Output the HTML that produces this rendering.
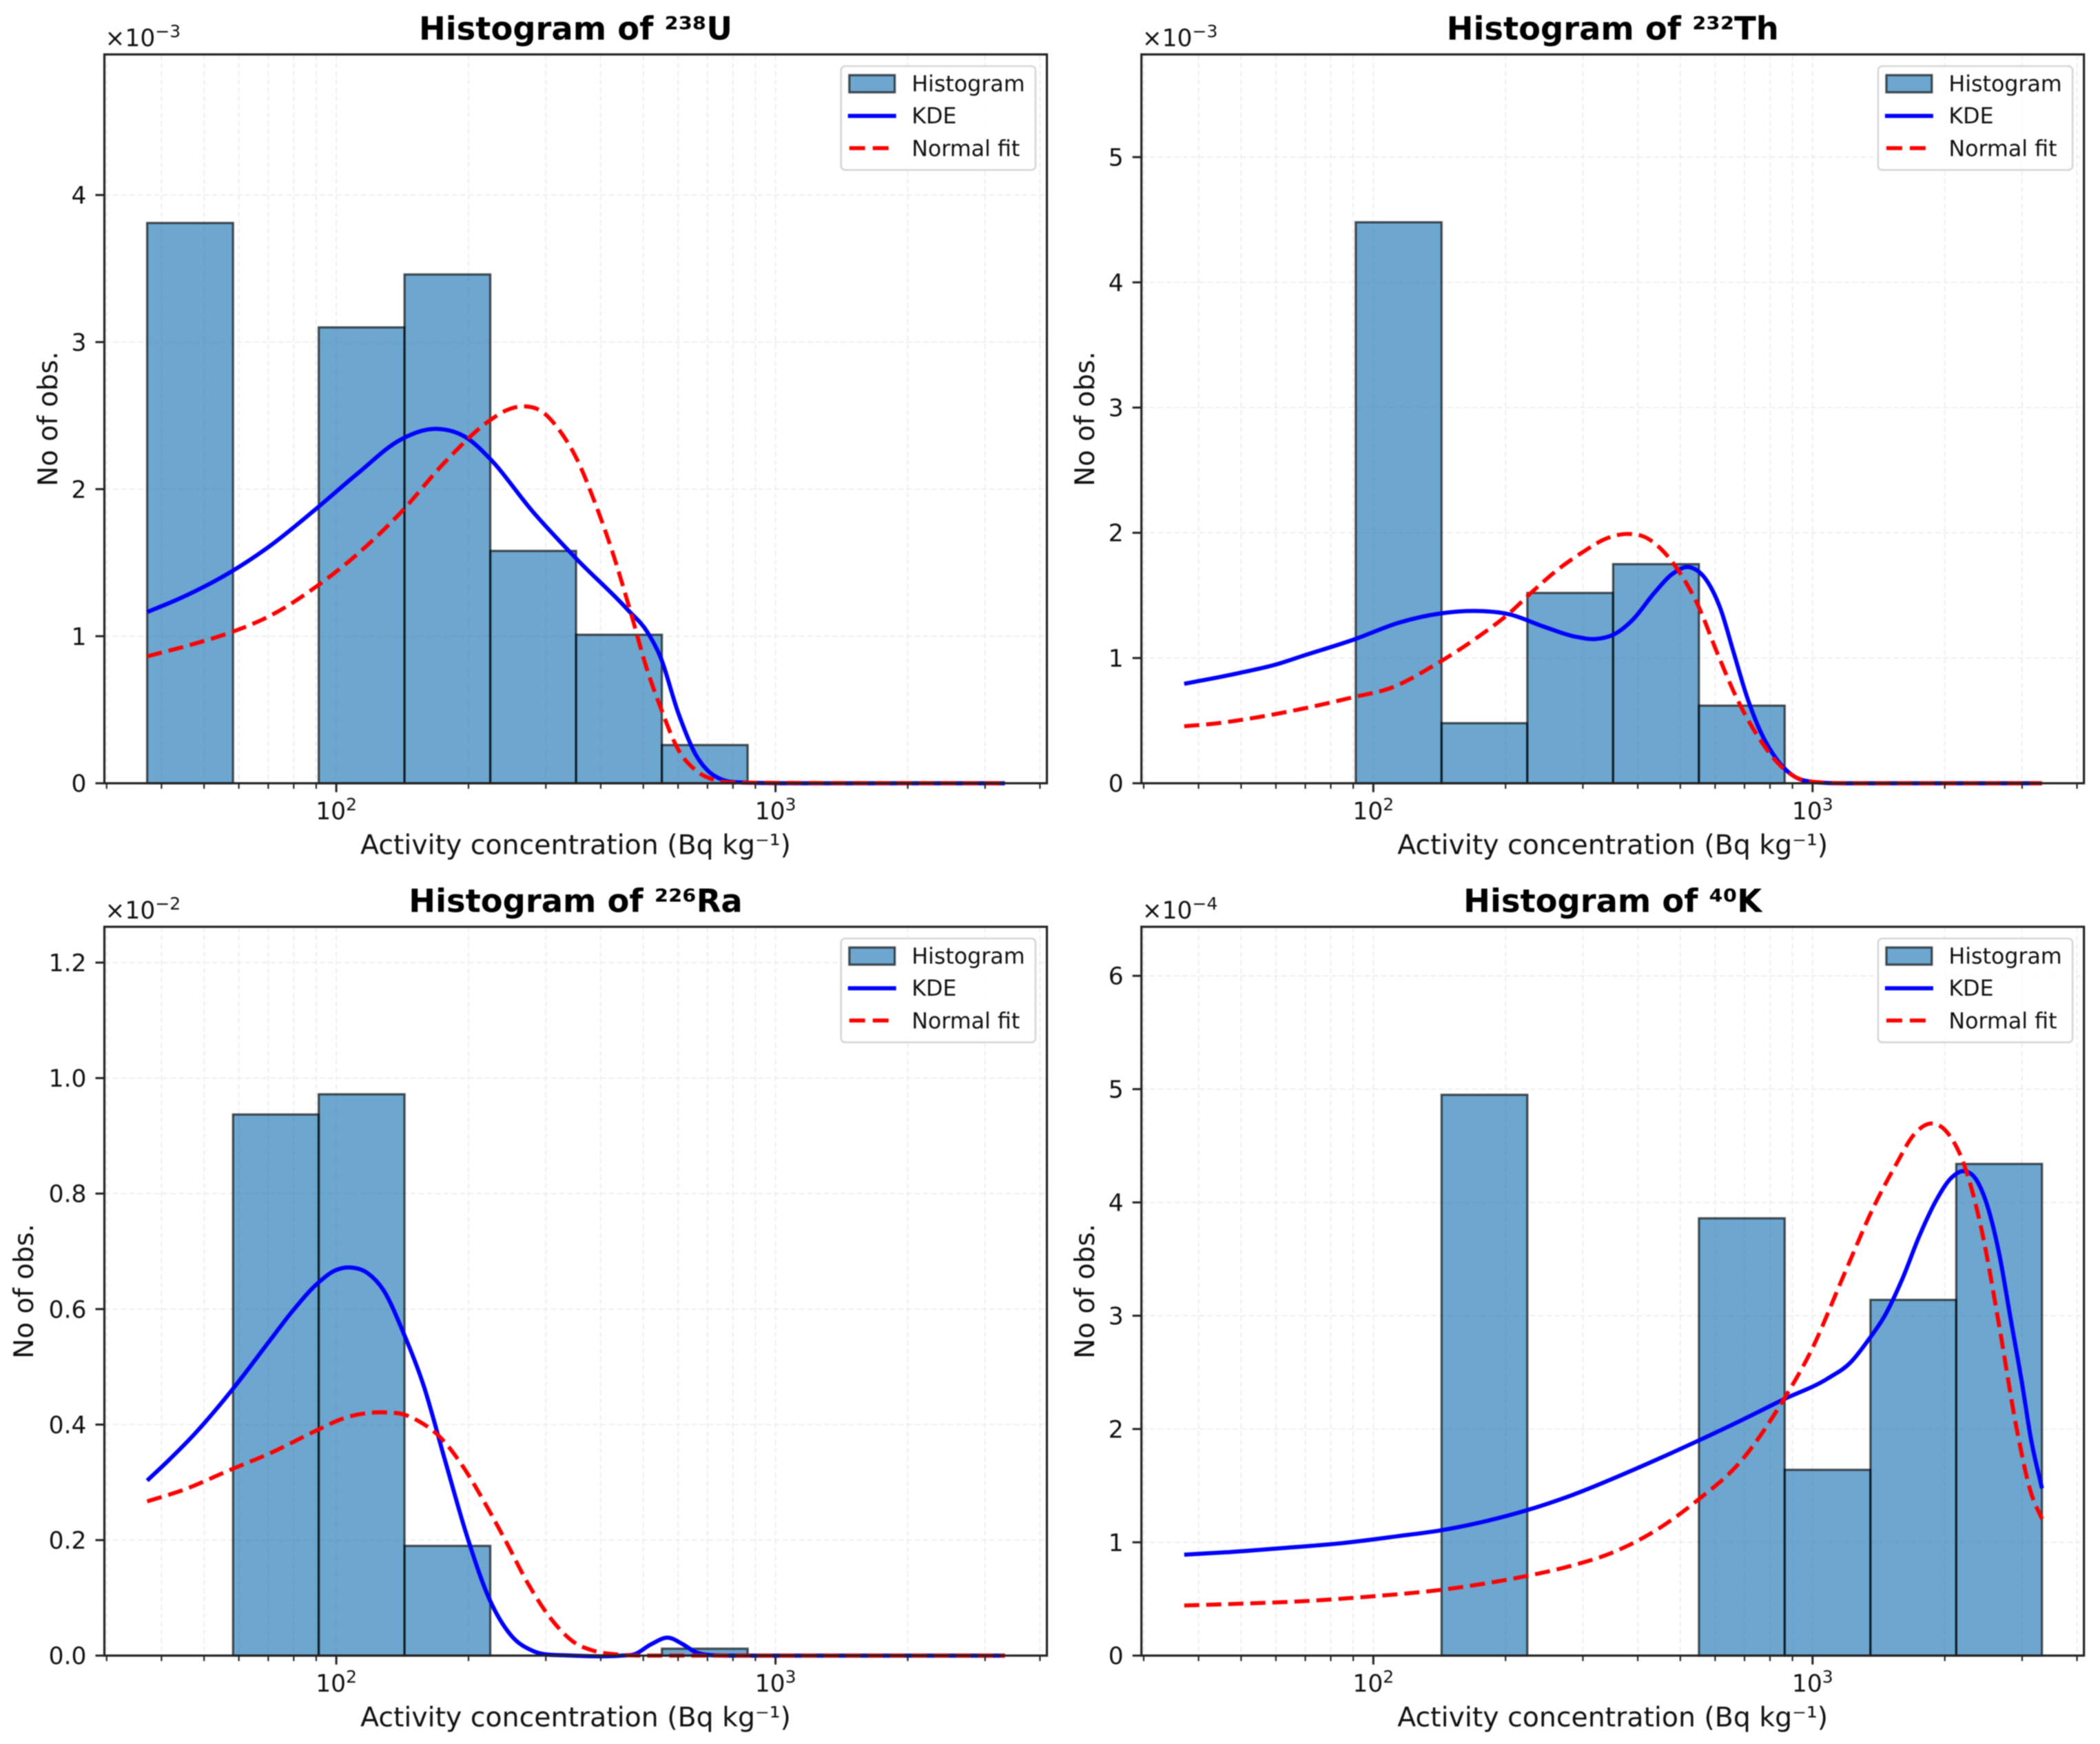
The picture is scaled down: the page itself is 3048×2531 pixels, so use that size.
<!DOCTYPE html>
<html lang="en">
<head>
<meta charset="utf-8">
<title>Histograms of activity concentration</title>
<style>
html,body{margin:0;padding:0;background:#fff;}
#figure{display:block;width:3048px;height:2531px;filter:blur(0.8px);font-family:"DejaVu Sans","Liberation Sans",sans-serif;}
</style>
</head>
<body>
<svg id="figure" xmlns="http://www.w3.org/2000/svg" width="3048" height="2531" viewBox="0 0 3048 2531">
<rect x="0" y="0" width="3048" height="2531" fill="#ffffff"/>
</svg>
<script>
// ---------- shared data ----------
const binEdges = [37.1, 58.2, 91.2, 143.0, 224.2, 351.5, 551.2, 864.1, 1354.6, 2124, 3329];
const xMajorTicks = [100, 1000];
const xMajorExponents = ['2', '3'];
const xMinorTicks = [30, 40, 50, 60, 70, 80, 90, 200, 300, 400, 500, 600, 700, 800, 900, 2000, 3000, 4000];
const legendLabels = ['Histogram', 'KDE', 'Normal fit'];
const xAxisTitle = 'Activity concentration (Bq kg⁻¹)';
const yAxisTitle = 'No of obs.';

// ---------- 238U (values x 10^-3) ----------
const u238Title = 'Histogram of ²³⁸U';
const u238Exponent = '−3';
const u238YMax = 4.956;
const u238YTicks = [0, 1, 2, 3, 4];
const u238YLabels = ['0', '1', '2', '3', '4'];
const u238Bins = [3.81, 0, 3.10, 3.46, 1.58, 1.01, 0.26, 0, 0, 0];
const u238KdeX = [37.1, 44.5, 57.9, 70.5, 89.7, 111.7, 140.6, 169, 198.6, 222.8, 280.5, 353, 460, 510.5, 547, 600, 658, 705, 755, 847, 1117, 3329];
const u238KdeY = [1.164, 1.263, 1.442, 1.612, 1.863, 2.105, 2.339, 2.410, 2.347, 2.213, 1.845, 1.523, 1.182, 1.029, 0.859, 0.482, 0.195, 0.079, 0.025, 0.005, 0, 0];
const u238NormX = [37.1, 47.6, 57.9, 70.5, 89.7, 111.7, 140.6, 177, 222.8, 244, 268, 294, 322, 353, 387, 425, 466, 510.5, 547, 600, 658, 721, 828, 3329];
const u238NormY = [0.863, 0.949, 1.029, 1.137, 1.334, 1.558, 1.845, 2.186, 2.464, 2.536, 2.563, 2.527, 2.401, 2.204, 1.917, 1.576, 1.182, 0.769, 0.518, 0.231, 0.088, 0.025, 0.004, 0];

// ---------- 232Th (values x 10^-3) ----------
const th232Title = 'Histogram of ²³²Th';
const th232Exponent = '−3';
const th232YMax = 5.82;
const th232YTicks = [0, 1, 2, 3, 4, 5];
const th232YLabels = ['0', '1', '2', '3', '4', '5'];
const th232Bins = [0, 0, 4.48, 0.48, 1.52, 1.75, 0.62, 0, 0, 0];
const th232KdeX = [37.1, 49, 60.3, 69.2, 90.2, 114.8, 141, 170, 204, 245.5, 288, 320, 355, 389, 437, 479, 525, 575, 617, 661, 708, 759, 832, 912, 1000, 1175, 3329];
const th232KdeY = [0.794, 0.877, 0.950, 1.018, 1.147, 1.284, 1.354, 1.376, 1.349, 1.248, 1.171, 1.152, 1.193, 1.303, 1.523, 1.670, 1.725, 1.615, 1.394, 1.046, 0.697, 0.422, 0.183, 0.051, 0.011, 0, 0];
const th232NormX = [37.1, 43.7, 53.7, 69.2, 90.2, 109.6, 138, 174, 204, 229, 263, 302, 339, 380, 417, 457, 501, 550, 603, 676, 759, 832, 912, 1023, 1300, 3329];
const th232NormY = [0.455, 0.477, 0.523, 0.596, 0.688, 0.761, 0.945, 1.174, 1.358, 1.523, 1.706, 1.853, 1.954, 1.991, 1.963, 1.853, 1.670, 1.413, 1.064, 0.661, 0.349, 0.165, 0.051, 0.009, 0, 0];

// ---------- 226Ra (values x 10^-2) ----------
const ra226Title = 'Histogram of ²²⁶Ra';
const ra226Exponent = '−2';
const ra226YMax = 1.262;
const ra226YTicks = [0, 0.2, 0.4, 0.6, 0.8, 1.0, 1.2];
const ra226YLabels = ['0.0', '0.2', '0.4', '0.6', '0.8', '1.0', '1.2'];
const ra226Bins = [0, 0.937, 0.972, 0.19, 0, 0, 0.012, 0, 0, 0];
const ra226KdeX = [37.1, 41.5, 47.6, 57.9, 70.5, 79, 90.8, 99.5, 108, 118, 128, 142, 158, 177, 198.6, 222.8, 250, 280.5, 315, 445, 476, 522, 570, 614, 658, 705, 791, 3329];
const ra226KdeY = [0.303, 0.338, 0.384, 0.460, 0.545, 0.594, 0.645, 0.667, 0.672, 0.662, 0.633, 0.560, 0.468, 0.337, 0.206, 0.099, 0.035, 0.008, 0.001, 0, 0.002, 0.020, 0.031, 0.020, 0.006, 0.001, 0, 0];
const ra226NormX = [37.1, 44.5, 57.9, 70.5, 90.8, 104, 122, 137, 154, 173, 194, 218, 244, 274, 308, 345, 387, 435, 499, 3329];
const ra226NormY = [0.267, 0.286, 0.323, 0.350, 0.391, 0.411, 0.421, 0.420, 0.406, 0.377, 0.328, 0.264, 0.196, 0.123, 0.064, 0.025, 0.008, 0.002, 0, 0];

// ---------- 40K (values x 10^-4) ----------
const k40Title = 'Histogram of ⁴⁰K';
const k40Exponent = '−4';
const k40YMax = 6.433;
const k40YTicks = [0, 1, 2, 3, 4, 5, 6];
const k40YLabels = ['0', '1', '2', '3', '4', '5', '6'];
const k40Bins = [0, 0, 0, 4.95, 0, 0, 3.86, 1.64, 3.14, 4.34];
const k40KdeX = [37.1, 46.8, 63.1, 85.1, 114.8, 141.6, 174.6, 221.8, 281.8, 380, 544.5, 692, 853, 1084, 1222, 1337, 1462, 1600, 1750, 1914, 2065, 2212, 2362, 2506, 2661, 2825, 3000, 3139, 3329];
const k40KdeY = [0.891, 0.913, 0.951, 0.993, 1.056, 1.104, 1.174, 1.279, 1.413, 1.619, 1.890, 2.081, 2.256, 2.447, 2.590, 2.781, 3.004, 3.322, 3.703, 4.022, 4.213, 4.276, 4.197, 3.958, 3.544, 2.972, 2.399, 1.922, 1.476];
const k40NormX = [37.1, 49.6, 69, 98.8, 141.6, 208.9, 281.8, 347.5, 441.6, 544.5, 692, 853, 991, 1186, 1377, 1552, 1698, 1888, 2033, 2225, 2433, 2661, 2911, 3139, 3329];
const k40NormY = [0.442, 0.458, 0.480, 0.522, 0.579, 0.681, 0.792, 0.904, 1.110, 1.365, 1.731, 2.240, 2.685, 3.385, 3.958, 4.340, 4.594, 4.696, 4.610, 4.308, 3.735, 2.908, 2.017, 1.444, 1.206];

// ---------- drawing ----------
const SVGNS = 'http://www.w3.org/2000/svg';
const figure = document.getElementById('figure');
const AXES_W = 1368, AXES_H = 1057.7;
const PX_PER_DECADE = 637.5, X_100_OFFSET = 336.6;

function make(parent, tag, attrs, text) {
  const node = document.createElementNS(SVGNS, tag);
  for (const k in attrs) node.setAttribute(k, attrs[k]);
  if (text !== undefined) node.textContent = text;
  parent.appendChild(node);
  return node;
}

function smoothPath(pts) {
  const n = pts.length, dx = [], m = [], t = [];
  for (let i = 0; i < n - 1; i++) {
    dx[i] = pts[i + 1][0] - pts[i][0];
    m[i] = (pts[i + 1][1] - pts[i][1]) / dx[i];
  }
  t[0] = m[0];
  t[n - 1] = m[n - 2];
  for (let i = 1; i < n - 1; i++) {
    let s = (m[i - 1] * dx[i] + m[i] * dx[i - 1]) / (dx[i - 1] + dx[i]);
    if (m[i - 1] * m[i] > 0) {
      const lim = 3 * Math.min(Math.abs(m[i - 1]), Math.abs(m[i]));
      if (Math.abs(s) > lim) s = Math.sign(s) * lim;
    } else if (m[i - 1] === 0 || m[i] === 0) {
      s = 0;
    }
    t[i] = s;
  }
  let d = 'M' + pts[0][0].toFixed(2) + ' ' + pts[0][1].toFixed(2);
  for (let i = 0; i < n - 1; i++) {
    const h = dx[i] / 3;
    d += 'C' + (pts[i][0] + h).toFixed(2) + ' ' + (pts[i][1] + t[i] * h).toFixed(2) + ' ' +
      (pts[i + 1][0] - h).toFixed(2) + ' ' + (pts[i + 1][1] - t[i + 1] * h).toFixed(2) + ' ' +
      pts[i + 1][0].toFixed(2) + ' ' + pts[i + 1][1].toFixed(2);
  }
  return d;
}

function drawPanel(p) {
  const L = p.left, T = p.top, R = L + AXES_W, B = T + AXES_H;
  const xScale = v => L + X_100_OFFSET + PX_PER_DECADE * (Math.log10(v) - 2);
  const yScale = v => B - v / p.yMax * AXES_H;

  const g = make(figure, 'g', {});
  
  

  // grid
  const grid = make(g, 'g', {stroke: '#ebebeb', 'stroke-width': 1.6, 'stroke-dasharray': '8 4', fill: 'none'});
  
  
  xMajorTicks.concat(xMinorTicks).forEach(v => {
    make(grid, 'line', {x1: xScale(v), x2: xScale(v), y1: T, y2: B});
  });
  p.yTicks.forEach(v => {
    make(grid, 'line', {x1: L, x2: R, y1: yScale(v), y2: yScale(v)});
  });

  // histogram bars
  const bars = make(g, 'g', {});
  
  
  p.bins.forEach((v, i) => {
    const x0 = xScale(binEdges[i]), x1 = xScale(binEdges[i + 1]), y = yScale(v);
    const bar = make(bars, 'rect', {x: x0, y: y, width: x1 - x0, height: B - y, fill: '#1f77b4', 'fill-opacity': 0.65, stroke: '#000', 'stroke-opacity': 0.65, 'stroke-width': 3.2});
    
    
  });

  // curves
  const kde = make(g, 'path', {d: smoothPath(p.kdeX.map((x, i) => [xScale(x), yScale(p.kdeY[i])])), fill: 'none', stroke: '#0000ff', 'stroke-width': 6});
  
  
  const norm = make(g, 'path', {d: smoothPath(p.normX.map((x, i) => [xScale(x), yScale(p.normY[i])])), fill: 'none', stroke: '#ff0000', 'stroke-width': 5.8, 'stroke-dasharray': '22 10'});
  
  

  // spines
  const spines = make(g, 'rect', {x: L, y: T, width: AXES_W, height: AXES_H, fill: 'none', stroke: '#222', 'stroke-width': 3.2});
  
  

  // x ticks
  const xAxis = make(g, 'g', {stroke: '#222', fill: '#111'});
  
  
  xMinorTicks.forEach(v => {
    make(xAxis, 'line', {x1: xScale(v), x2: xScale(v), y1: B, y2: B + 8, 'stroke-width': 2.2});
  });
  xMajorTicks.forEach((v, i) => {
    make(xAxis, 'line', {x1: xScale(v), x2: xScale(v), y1: B, y2: B + 13, 'stroke-width': 3});
    const lab = make(xAxis, 'text', {x: xScale(v), y: B + 52.5, 'text-anchor': 'middle', 'font-size': 34.5, stroke: 'none'}, '10');
    
    
    make(lab, 'tspan', {dy: -13, 'font-size': 25}, xMajorExponents[i]);
  });

  // y ticks
  const yAxis = make(g, 'g', {stroke: '#222', fill: '#111'});
  
  
  p.yTicks.forEach((v, i) => {
    make(yAxis, 'line', {x1: L - 13, x2: L, y1: yScale(v), y2: yScale(v), 'stroke-width': 3});
    const lab = make(yAxis, 'text', {x: L - 26, y: yScale(v) + 12.5, 'text-anchor': 'end', 'font-size': 34.5, stroke: 'none'}, p.yLabels[i]);
    
    
  });

  // offset text
  const off = make(g, 'text', {x: L + 1, y: T - 12, 'font-size': 34.5, fill: '#111'}, '×10');
  
  
  make(off, 'tspan', {dy: -13, 'font-size': 25}, p.exponent);

  // titles
  const title = make(g, 'text', {x: L + AXES_W / 2, y: T - 21.5, 'text-anchor': 'middle', 'font-size': 46.4, 'font-weight': 'bold', fill: '#000'}, p.title);
  
  
  const xTitle = make(g, 'text', {x: L + AXES_W / 2, y: B + 103, 'text-anchor': 'middle', 'font-size': 39.4, fill: '#111'}, xAxisTitle);
  
  
  const yMid = T + AXES_H / 2, yX = p.yTitleX;
  const yTitle = make(g, 'text', {x: yX, y: yMid, 'text-anchor': 'middle', 'font-size': 38.8, fill: '#111', transform: 'rotate(-90 ' + yX + ' ' + yMid + ')'}, yAxisTitle);
  
  

  // legend
  const lx = L + 1069.2, ly = T + 17;
  const legend = make(g, 'g', {});
  
  
  make(legend, 'rect', {x: lx, y: ly, width: 282.3, height: 150.7, rx: 6, ry: 6, fill: '#fff', 'fill-opacity': 0.8, stroke: '#d6d6d6', 'stroke-width': 2.6});
  const swatch = make(legend, 'rect', {x: lx + 12, y: ly + 13, width: 66, height: 25, fill: '#1f77b4', 'fill-opacity': 0.65, stroke: '#000', 'stroke-opacity': 0.65, 'stroke-width': 3.2});
  
  
  const kdeKey = make(legend, 'line', {x1: lx + 10, x2: lx + 80, y1: ly + 72.3, y2: ly + 72.3, stroke: '#0000ff', 'stroke-width': 6});
  
  
  const normKey = make(legend, 'line', {x1: lx + 12, x2: lx + 80, y1: ly + 119, y2: ly + 119, stroke: '#ff0000', 'stroke-width': 5.8, 'stroke-dasharray': '23 11'});
  
  
  const legendBaselines = [36.7, 83, 130.7];
  legendLabels.forEach((label, i) => {
    const t = make(legend, 'text', {x: lx + 102.5, y: ly + legendBaselines[i], 'font-size': 31.7, fill: '#111'}, label);
    
    
  });
}

drawPanel({key: 'u238', left: 151.5, top: 79, yTitleX: 83, title: u238Title, exponent: u238Exponent, yMax: u238YMax, yTicks: u238YTicks, yLabels: u238YLabels, bins: u238Bins, kdeX: u238KdeX, kdeY: u238KdeY, normX: u238NormX, normY: u238NormY});
drawPanel({key: 'th232', left: 1656.7, top: 79, yTitleX: 1588, title: th232Title, exponent: th232Exponent, yMax: th232YMax, yTicks: th232YTicks, yLabels: th232YLabels, bins: th232Bins, kdeX: th232KdeX, kdeY: th232KdeY, normX: th232NormX, normY: th232NormY});
drawPanel({key: 'ra226', left: 151.5, top: 1345, yTitleX: 48, title: ra226Title, exponent: ra226Exponent, yMax: ra226YMax, yTicks: ra226YTicks, yLabels: ra226YLabels, bins: ra226Bins, kdeX: ra226KdeX, kdeY: ra226KdeY, normX: ra226NormX, normY: ra226NormY});
drawPanel({key: 'k40', left: 1656.7, top: 1345, yTitleX: 1588, title: k40Title, exponent: k40Exponent, yMax: k40YMax, yTicks: k40YTicks, yLabels: k40YLabels, bins: k40Bins, kdeX: k40KdeX, kdeY: k40KdeY, normX: k40NormX, normY: k40NormY});
</script>
</body>
</html>
